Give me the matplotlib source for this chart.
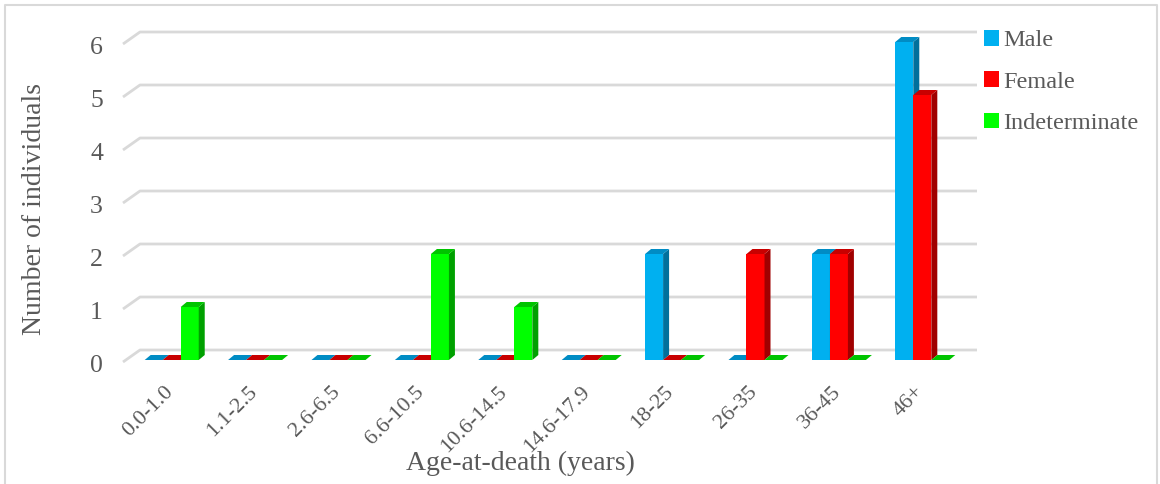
import numpy as np
import matplotlib
matplotlib.use('Agg')
import matplotlib.pyplot as plt
from matplotlib.patches import Polygon, Patch
from matplotlib.lines import Line2D

# data
age_groups = ['0.0-1.0', '1.1-2.5', '2.6-6.5', '6.6-10.5', '10.6-14.5',
              '14.6-17.9', '18-25', '26-35', '36-45', '46+']
male = [0, 0, 0, 0, 0, 0, 2, 0, 2, 6]
female = [0, 0, 0, 0, 0, 0, 0, 2, 2, 5]
indeterminate = [1, 0, 0, 2, 1, 0, 0, 0, 0, 0]
series_names = ['Male', 'Female', 'Indeterminate']
y_ticks = [0, 1, 2, 3, 4, 5, 6]

# front / side / top colours per series
colors = [('#00B0F0', '#00709C', '#008CC4'),
          ('#FF0000', '#A00000', '#C80000'),
          ('#00FF00', '#00A000', '#00C400')]
text_grey = '#595959'
font = 'Liberation Serif'

W, H = 1160, 484
fig = plt.figure(figsize=(W / 100, H / 100), dpi=100)

# axes placed in pixels
ax_left, ax_right = 130, 964
ax_base = 360          # pixel row of y=0 (from top)
px_per_unit = 53
ymax = 6.5
ax = fig.add_axes([ax_left / W, 1 - ax_base / H,
                   (ax_right - ax_left) / W, ymax * px_per_unit / H])
n = len(age_groups)
ax.set_xlim(-0.5, n - 0.5)
ax.set_ylim(0, ymax)
ax.axis('off')

# pixel -> data unit helpers
ux = n / (ax_right - ax_left)
uy = 1 / px_per_unit

# gridlines with the little side-wall diagonal
for v in y_ticks:
    y_front = v - 2 * uy
    y_back = v + 10 * uy
    x_front = -0.5 - 7 * ux
    x_wall = -0.5 + 10 * ux
    x_end = n - 0.5 + 13 * ux
    ax.plot([x_front, x_wall, x_end], [y_front, y_back, y_back],
            color='#D9D9D9', lw=2, clip_on=False, zorder=0,
            solid_capstyle='butt')
    ax.text(-0.5 - 27 * ux, v - 6 * uy, str(v), ha='right', va='center',
            fontsize=18.5, family=font, color=text_grey)

# pseudo-3d columns
x = np.arange(n)
bar_w = 0.216
dx, dy = 6 * ux, 5 * uy
for i, vals in enumerate([male, female, indeterminate]):
    front, side, top = colors[i]
    xs = x + (i - 1) * bar_w
    ax.bar(xs, vals, width=bar_w, color=front, zorder=2 + i, linewidth=0)
    for xc, v in zip(xs, vals):
        xl, xr = xc - bar_w / 2, xc + bar_w / 2
        if v > 0:
            ax.add_patch(Polygon([(xr, 0), (xr, v), (xr + dx, v + dy), (xr + dx, dy)],
                                 closed=True, color=side, lw=0, zorder=2 + i))
        ax.add_patch(Polygon([(xl, v), (xr, v), (xr + dx, v + dy), (xl + dx, v + dy)],
                             closed=True, color=top, lw=0, zorder=2 + i))

# category labels
for xi, lab in zip(x, age_groups):
    ax.text(xi - 1 * ux, -29 * uy, lab, rotation=45, ha='right', va='center',
            rotation_mode='anchor', fontsize=16, family=font, color=text_grey)

fig.text(35 / W, 1 - 209 / H, 'Number of individuals', rotation=90,
         ha='center', va='center', fontsize=20, family=font, color=text_grey)
fig.text(520 / W, 1 - 463 / H, 'Age-at-death (years)',
         ha='center', va='center', fontsize=20, family=font, color=text_grey)

handles = [Patch(facecolor=c[0], edgecolor='none') for c in colors]
fig.legend(handles, series_names, loc='upper left',
           bbox_to_anchor=(972 / W, 1 - 18 / H), frameon=False,
           handlelength=0.6, handleheight=0.6, handletextpad=0.2,
           labelspacing=0.82, borderpad=0,
           prop={'family': font, 'size': 17.5}, labelcolor=text_grey)

# chart border (left, top, right)
fig.add_artist(Line2D([5 / W, 5 / W, 1157 / W, 1157 / W],
                      [0, 1 - 5 / H, 1 - 5 / H, 0],
                      transform=fig.transFigure, color='#D9D9D9', lw=1.5))

fig.savefig('out.png', dpi=100, facecolor='white')
